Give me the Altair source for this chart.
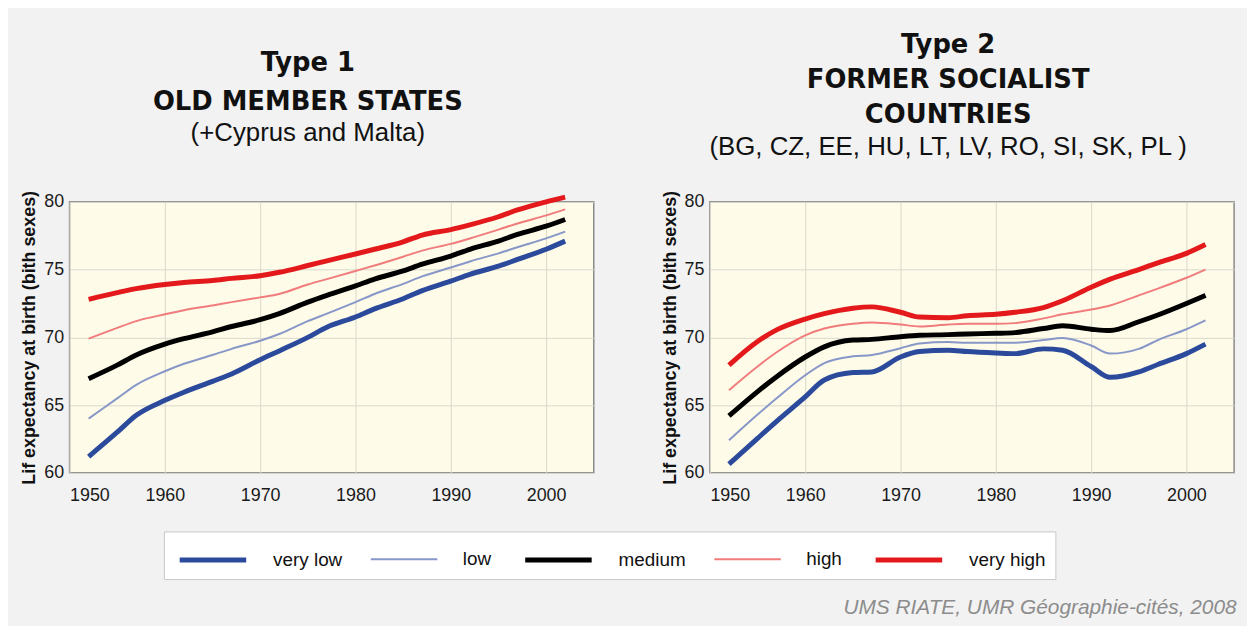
import altair as alt
import pandas as pd

levels = ["very low", "low", "medium", "high", "very high"]
colors = ["#2b4a9c", "#8797c8", "#000000", "#f07c7c", "#e3191c"]
widths = [5, 2, 5, 2, 5]

years = [1952, 1955, 1957, 1960, 1962, 1965, 1967, 1970, 1972, 1975, 1977,
         1980, 1982, 1985, 1987, 1990, 1992, 1995, 1997, 2000, 2002]

# Type 1 : old member states
t1_very_low = [61.2, 63.0, 64.25, 65.35, 65.95, 66.75, 67.3, 68.35, 69.0, 70.0, 70.75,
               71.5, 72.1, 72.85, 73.45, 74.15, 74.65, 75.25, 75.75, 76.5, 77.1]
t1_low = [64.0, 65.5, 66.5, 67.5, 68.05, 68.7, 69.15, 69.75, 70.25, 71.2, 71.75,
          72.6, 73.2, 73.95, 74.5, 75.15, 75.6, 76.2, 76.65, 77.3, 77.8]
t1_medium = [66.95, 67.95, 68.7, 69.5, 69.9, 70.4, 70.8, 71.3, 71.75, 72.6, 73.1,
             73.8, 74.3, 74.9, 75.4, 76.0, 76.5, 77.1, 77.6, 78.2, 78.7]
t1_high = [69.9, 70.7, 71.2, 71.7, 72.0, 72.35, 72.6, 72.95, 73.2, 73.9, 74.3,
           74.9, 75.3, 75.95, 76.4, 76.9, 77.3, 77.95, 78.4, 79.0, 79.45]
t1_very_high = [72.8, 73.3, 73.6, 73.9, 74.05, 74.2, 74.35, 74.55, 74.8, 75.3, 75.65,
                76.15, 76.5, 77.05, 77.55, 77.95, 78.3, 78.9, 79.4, 80.0, 80.35]

# Type 2 : former socialist countries
t2_very_low = [60.65, 62.55, 63.8, 65.6, 66.85, 67.4, 67.45, 68.55, 68.95, 69.05, 68.95,
               68.85, 68.8, 69.15, 69.05, 67.85, 67.05, 67.45, 68.0, 68.8, 69.5]
t2_low = [62.4, 64.3, 65.5, 67.2, 68.1, 68.6, 68.7, 69.2, 69.55, 69.65, 69.6,
          69.6, 69.6, 69.8, 69.95, 69.4, 68.8, 69.15, 69.8, 70.6, 71.25]
t2_medium = [64.2, 66.0, 67.1, 68.55, 69.3, 69.8, 69.85, 70.05, 70.15, 70.2, 70.25,
             70.3, 70.35, 70.65, 70.85, 70.6, 70.5, 71.15, 71.65, 72.5, 73.1]
t2_high = [66.1, 67.85, 68.9, 70.15, 70.65, 71.0, 71.1, 70.95, 70.8, 70.95, 71.0,
           71.0, 71.05, 71.4, 71.7, 72.05, 72.35, 73.1, 73.6, 74.4, 75.0]
t2_very_high = [67.95, 69.7, 70.55, 71.35, 71.75, 72.15, 72.25, 71.85, 71.5, 71.45, 71.6,
                71.7, 71.85, 72.2, 72.7, 73.7, 74.3, 75.0, 75.5, 76.2, 76.85]

x_ticks = [1950, 1960, 1970, 1980, 1990, 2000]
y_ticks = [60, 65, 70, 75, 80]
y_title = "Lif expectancy at birth (bith sexes)"
credit = "UMS RIATE, UMR Géographie-cités, 2008"

W, H = 528, 273


def frame(series):
    rows = []
    for lvl, vals in zip(levels, series):
        for yr, v in zip(years, vals):
            rows.append({"year": yr, "value": v, "level": lvl})
    return pd.DataFrame(rows)


df1 = frame([t1_very_low, t1_low, t1_medium, t1_high, t1_very_high])
df2 = frame([t2_very_low, t2_low, t2_medium, t2_high, t2_very_high])


def panel(df, title_lines, subtitle, offset, line_height, legend, x_title):
    if legend:
        leg = alt.Legend(
            title=None, orient="none", direction="horizontal",
            legendX=95, legendY=332,
        )
    else:
        leg = None
    if x_title:
        xaxis = alt.Axis(
            values=x_ticks, format="d", title=credit,
            titleX=W + 2, titleY=136, titleAlign="right", titleBaseline="middle",
            titleFontStyle="italic", titleFontWeight="normal", titleColor="#8c8c8c",
            titleFontSize=21, titleFont="Liberation Sans",
        )
    else:
        xaxis = alt.Axis(values=x_ticks, format="d", title=None)
    return alt.Chart(df).mark_line(interpolate="monotone", strokeCap="butt").encode(
        x=alt.X("year:Q", scale=alt.Scale(domain=[1950, 2005], nice=False), axis=xaxis),
        y=alt.Y("value:Q", scale=alt.Scale(domain=[60, 80], nice=False, zero=False),
                axis=alt.Axis(values=y_ticks, title=y_title)),
        color=alt.Color("level:N", scale=alt.Scale(domain=levels, range=colors),
                        legend=leg),
        strokeWidth=alt.StrokeWidth(
            "level:N", scale=alt.Scale(type="ordinal", domain=levels, range=widths),
            legend=leg),
        detail="level:N",
    ).properties(
        width=W, height=H,
        title=alt.TitleParams(
            text=title_lines, subtitle=subtitle, anchor="middle", dx=-24,
            font="DejaVu Sans", fontWeight="bold", fontSize=26, lineHeight=line_height,
            color="#111111",
            subtitleFont="Liberation Sans", subtitleFontSize=26, subtitleColor="#111111",
            subtitlePadding=6, offset=offset,
        ),
    )


p1 = panel(df1, ["Type 1", "OLD MEMBER STATES"], "(+Cyprus and Malta)", 41, 39, True, False)
p2 = panel(df2, ["Type 2", "FORMER SOCIALIST", "COUNTRIES"],
           "(BG, CZ, EE, HU, LT, LV, RO, SI, SK, PL )", 31, 35, False, True)

chart = alt.hconcat(p1, p2, spacing=117, bounds="flush").resolve_scale(
    color="shared", strokeWidth="shared"
).resolve_legend(
    color="independent", strokeWidth="independent"
).properties(
    padding={"left": 12, "top": 21, "right": 10, "bottom": 5},
).configure(
    background="#f2f2f2",
).configure_view(
    fill="#fefbe9", stroke="#8a8a8a", strokeWidth=1.5,
).configure_axis(
    grid=True, gridColor="#d9d8cc", gridWidth=1, ticks=False, domain=False,
    labelFont="Liberation Sans", labelFontSize=18, labelColor="#1a1a1a",
    titleFont="Liberation Sans", titleFontSize=18, titleFontWeight="bold",
    titleColor="#111111",
).configure_axisX(
    labelPadding=14,
).configure_axisY(
    labelPadding=6, titlePadding=5,
).configure_legend(
    symbolType="M-0.75,0L3.25,0", symbolSize=1122, labelFont="Liberation Sans",
    labelFontSize=19, labelColor="#111111", labelOffset=62, columnPadding=23,
    padding=9, fillColor="#ffffff", strokeColor="#c8c8c8",
)

chart.save("out.html", embed_options={"renderer": "svg", "actions": False})
